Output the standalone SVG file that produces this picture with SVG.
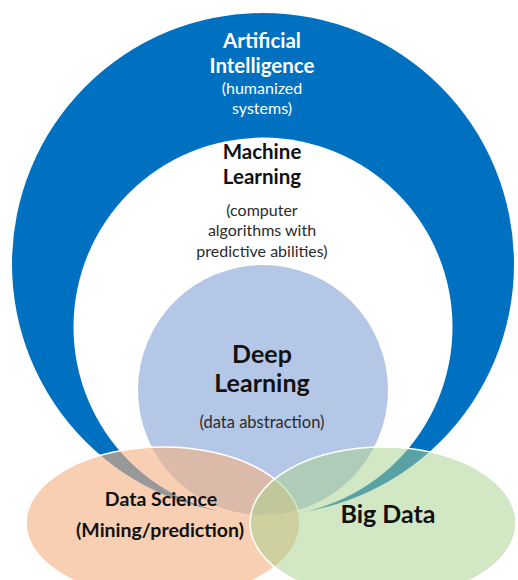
<svg xmlns="http://www.w3.org/2000/svg" width="518" height="580" viewBox="0 0 518 580">
  <style>
    text { font-family: Lato, "Open Sans", "Liberation Sans", sans-serif; text-anchor: middle; }
    .h { font-weight: 700; }
    .w { fill: #ffffff; }
    .k { fill: #111111; }
    .g { fill: #2b2b2b; }
    .ell { stroke: #ffffff; stroke-width: 1.5; }
  </style>
  <rect width="518" height="580" fill="#ffffff"/>
  <g id="ai">
    <circle cx="263" cy="264" r="251" fill="#0070C0"/>
    <text class="h w" x="262" y="48" font-size="20.5">Artificial</text>
    <text class="h w" x="262" y="73" font-size="20.5">Intelligence</text>
    <text class="w" x="262" y="94" font-size="16">(humanized</text>
    <text class="w" x="262" y="113.5" font-size="16">systems)</text>
  </g>
  <g id="ml">
    <circle cx="263" cy="327" r="189.5" fill="#ffffff"/>
    <text class="h k" x="262" y="159" font-size="20.5">Machine</text>
    <text class="h k" x="262" y="184" font-size="20.5">Learning</text>
    <text class="g" x="262" y="216" font-size="16">(computer</text>
    <text class="g" x="262" y="236" font-size="16">algorithms with</text>
    <text class="g" x="262" y="257" font-size="16">predictive abilities)</text>
  </g>
  <g id="dl">
    <circle cx="263" cy="390" r="125" fill="#B4C7E7"/>
    <text class="h k" x="262" y="363" font-size="25">Deep</text>
    <text class="h k" x="262" y="392" font-size="25">Learning</text>
    <text class="g" x="262" y="428" font-size="16.5">(data abstraction)</text>
  </g>
  <g id="ds">
    <ellipse class="ell" cx="163" cy="523" rx="137" ry="76" fill="#F4B183" fill-opacity="0.62"/>
    <text class="h k" x="161" y="506" font-size="19.5">Data Science</text>
    <text class="h k" x="160" y="537" font-size="19.5">(Mining/prediction)</text>
  </g>
  <g id="bd">
    <ellipse class="ell" cx="383" cy="523" rx="133" ry="76" fill="#A9D18E" fill-opacity="0.52"/>
    <text class="h k" x="388" y="523" font-size="25">Big Data</text>
  </g>
  <g id="connectors"/>
</svg>
